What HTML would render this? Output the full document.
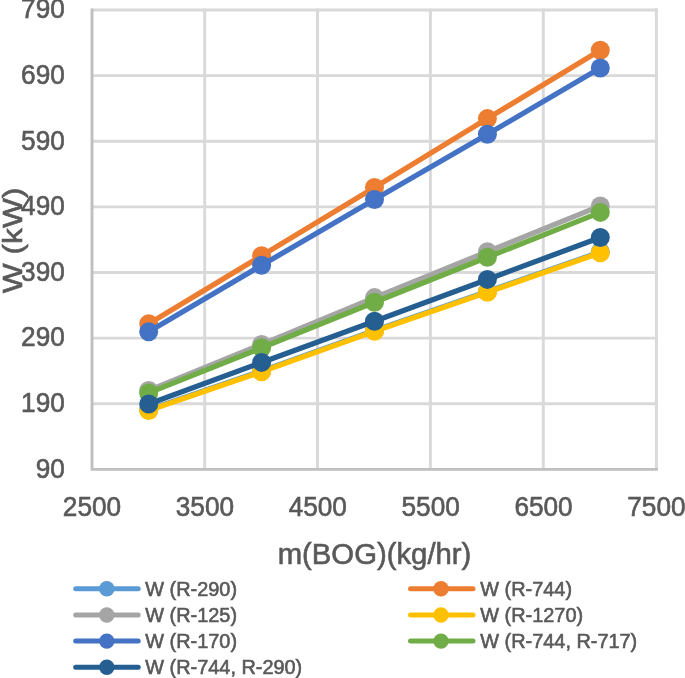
<!DOCTYPE html><html><head><meta charset="utf-8"><style>html,body{margin:0;padding:0;background:#fff;}body{width:685px;height:678px;overflow:hidden;}svg{display:block;will-change:transform;}text{font-family:"Liberation Sans",sans-serif;fill:#595959;stroke:#595959;stroke-width:0.6px;}</style></head><body>
<svg width="685" height="678" viewBox="0 0 685 678">
<g stroke="#D9D9D9" stroke-width="2.90"><line x1="204.70" y1="8.55" x2="204.70" y2="469.35"/><line x1="317.50" y1="8.55" x2="317.50" y2="469.35"/><line x1="430.40" y1="8.55" x2="430.40" y2="469.35"/><line x1="543.30" y1="8.55" x2="543.30" y2="469.35"/><line x1="656.40" y1="8.55" x2="656.40" y2="469.35"/><line x1="92.00" y1="403.73" x2="657.85" y2="403.73"/><line x1="92.00" y1="338.11" x2="657.85" y2="338.11"/><line x1="92.00" y1="272.49" x2="657.85" y2="272.49"/><line x1="92.00" y1="206.86" x2="657.85" y2="206.86"/><line x1="92.00" y1="141.24" x2="657.85" y2="141.24"/><line x1="92.00" y1="75.62" x2="657.85" y2="75.62"/><line x1="92.00" y1="10.00" x2="657.85" y2="10.00"/></g>
<g stroke="#BFBFBF" stroke-width="2.90" fill="none"><polyline points="92.00,8.55 92.00,469.35 657.85,469.35"/></g>
<text transform="translate(64.8,477.65) scale(1,1.06)" text-anchor="end" font-size="26.2">90</text><text transform="translate(64.8,412.03) scale(1,1.06)" text-anchor="end" font-size="26.2">190</text><text transform="translate(64.8,346.41) scale(1,1.06)" text-anchor="end" font-size="26.2">290</text><text transform="translate(64.8,280.79) scale(1,1.06)" text-anchor="end" font-size="26.2">390</text><text transform="translate(64.8,215.16) scale(1,1.06)" text-anchor="end" font-size="26.2">490</text><text transform="translate(64.8,149.54) scale(1,1.06)" text-anchor="end" font-size="26.2">590</text><text transform="translate(64.8,83.92) scale(1,1.06)" text-anchor="end" font-size="26.2">690</text><text transform="translate(64.8,18.30) scale(1,1.06)" text-anchor="end" font-size="26.2">790</text><text transform="translate(92.00,516.3) scale(1,1.08)" text-anchor="middle" font-size="26.2">2500</text><text transform="translate(204.88,516.3) scale(1,1.08)" text-anchor="middle" font-size="26.2">3500</text><text transform="translate(317.76,516.3) scale(1,1.08)" text-anchor="middle" font-size="26.2">4500</text><text transform="translate(430.64,516.3) scale(1,1.08)" text-anchor="middle" font-size="26.2">5500</text><text transform="translate(543.52,516.3) scale(1,1.08)" text-anchor="middle" font-size="26.2">6500</text><text transform="translate(656.40,516.3) scale(1,1.08)" text-anchor="middle" font-size="26.2">7500</text>
<text x="374.5" y="564" text-anchor="middle" font-size="29.3">m(BOG)(kg/hr)</text>
<text transform="translate(21.8,240.4) rotate(-90)" x="0" y="0" text-anchor="middle" font-size="28.2" textLength="105.5" lengthAdjust="spacingAndGlyphs">W (kW)</text>
<polyline points="148.70,409.80 261.60,371.00 374.50,330.60 487.40,291.60 600.30,252.00" fill="none" stroke="#5B9BD5" stroke-width="5.30" stroke-linejoin="round" stroke-linecap="round"/>
<g fill="#5B9BD5"><circle cx="148.70" cy="409.80" r="9.50"/><circle cx="261.60" cy="371.00" r="9.50"/><circle cx="374.50" cy="330.60" r="9.50"/><circle cx="487.40" cy="291.60" r="9.50"/><circle cx="600.30" cy="252.00" r="9.50"/></g>
<polyline points="148.70,323.70 261.60,255.70 374.50,187.50 487.40,118.60 600.30,50.30" fill="none" stroke="#ED7D31" stroke-width="5.30" stroke-linejoin="round" stroke-linecap="round"/>
<g fill="#ED7D31"><circle cx="148.70" cy="323.70" r="9.50"/><circle cx="261.60" cy="255.70" r="9.50"/><circle cx="374.50" cy="187.50" r="9.50"/><circle cx="487.40" cy="118.60" r="9.50"/><circle cx="600.30" cy="50.30" r="9.50"/></g>
<polyline points="148.70,390.50 261.60,344.40 374.50,297.60 487.40,251.70 600.30,205.90" fill="none" stroke="#A5A5A5" stroke-width="5.30" stroke-linejoin="round" stroke-linecap="round"/>
<g fill="#A5A5A5"><circle cx="148.70" cy="390.50" r="9.50"/><circle cx="261.60" cy="344.40" r="9.50"/><circle cx="374.50" cy="297.60" r="9.50"/><circle cx="487.40" cy="251.70" r="9.50"/><circle cx="600.30" cy="205.90" r="9.50"/></g>
<polyline points="148.70,410.50 261.60,371.70 374.50,331.30 487.40,292.30 600.30,252.70" fill="none" stroke="#FFC000" stroke-width="5.30" stroke-linejoin="round" stroke-linecap="round"/>
<g fill="#FFC000"><circle cx="148.70" cy="410.50" r="9.50"/><circle cx="261.60" cy="371.70" r="9.50"/><circle cx="374.50" cy="331.30" r="9.50"/><circle cx="487.40" cy="292.30" r="9.50"/><circle cx="600.30" cy="252.70" r="9.50"/></g>
<polyline points="148.70,331.70 261.60,265.30 374.50,199.50 487.40,134.30 600.30,68.00" fill="none" stroke="#4472C4" stroke-width="5.30" stroke-linejoin="round" stroke-linecap="round"/>
<g fill="#4472C4"><circle cx="148.70" cy="331.70" r="9.50"/><circle cx="261.60" cy="265.30" r="9.50"/><circle cx="374.50" cy="199.50" r="9.50"/><circle cx="487.40" cy="134.30" r="9.50"/><circle cx="600.30" cy="68.00" r="9.50"/></g>
<polyline points="148.70,392.90 261.60,347.80 374.50,302.30 487.40,257.20 600.30,212.40" fill="none" stroke="#70AD47" stroke-width="5.30" stroke-linejoin="round" stroke-linecap="round"/>
<g fill="#70AD47"><circle cx="148.70" cy="392.90" r="9.50"/><circle cx="261.60" cy="347.80" r="9.50"/><circle cx="374.50" cy="302.30" r="9.50"/><circle cx="487.40" cy="257.20" r="9.50"/><circle cx="600.30" cy="212.40" r="9.50"/></g>
<polyline points="148.70,404.00 261.60,362.40 374.50,321.30 487.40,279.40 600.30,237.50" fill="none" stroke="#255E91" stroke-width="5.30" stroke-linejoin="round" stroke-linecap="round"/>
<g fill="#255E91"><circle cx="148.70" cy="404.00" r="9.50"/><circle cx="261.60" cy="362.40" r="9.50"/><circle cx="374.50" cy="321.30" r="9.50"/><circle cx="487.40" cy="279.40" r="9.50"/><circle cx="600.30" cy="237.50" r="9.50"/></g>
<line x1="75.70" y1="588.70" x2="138.20" y2="588.70" stroke="#5B9BD5" stroke-width="5" stroke-linecap="round"/>
<circle cx="106.80" cy="588.70" r="7.7" fill="#5B9BD5"/>
<text x="145.30" y="595.60" font-size="19.9">W (R-290)</text>
<line x1="410.50" y1="588.70" x2="473.00" y2="588.70" stroke="#ED7D31" stroke-width="5" stroke-linecap="round"/>
<circle cx="441.00" cy="588.70" r="7.7" fill="#ED7D31"/>
<text x="480.30" y="595.60" font-size="19.9">W (R-744)</text>
<line x1="75.70" y1="615.00" x2="138.20" y2="615.00" stroke="#A5A5A5" stroke-width="5" stroke-linecap="round"/>
<circle cx="106.80" cy="615.00" r="7.7" fill="#A5A5A5"/>
<text x="145.30" y="621.90" font-size="19.9">W (R-125)</text>
<line x1="410.50" y1="615.00" x2="473.00" y2="615.00" stroke="#FFC000" stroke-width="5" stroke-linecap="round"/>
<circle cx="441.00" cy="615.00" r="7.7" fill="#FFC000"/>
<text x="480.30" y="621.90" font-size="19.9">W (R-1270)</text>
<line x1="75.70" y1="641.10" x2="138.20" y2="641.10" stroke="#4472C4" stroke-width="5" stroke-linecap="round"/>
<circle cx="106.80" cy="641.10" r="7.7" fill="#4472C4"/>
<text x="145.30" y="648.00" font-size="19.9">W (R-170)</text>
<line x1="410.50" y1="641.10" x2="473.00" y2="641.10" stroke="#70AD47" stroke-width="5" stroke-linecap="round"/>
<circle cx="441.00" cy="641.10" r="7.7" fill="#70AD47"/>
<text x="480.30" y="648.00" font-size="19.9">W (R-744, R-717)</text>
<line x1="75.70" y1="667.20" x2="138.20" y2="667.20" stroke="#255E91" stroke-width="5" stroke-linecap="round"/>
<circle cx="106.80" cy="667.20" r="7.7" fill="#255E91"/>
<text x="145.30" y="674.10" font-size="19.9">W (R-744, R-290)</text>
</svg></body></html>
